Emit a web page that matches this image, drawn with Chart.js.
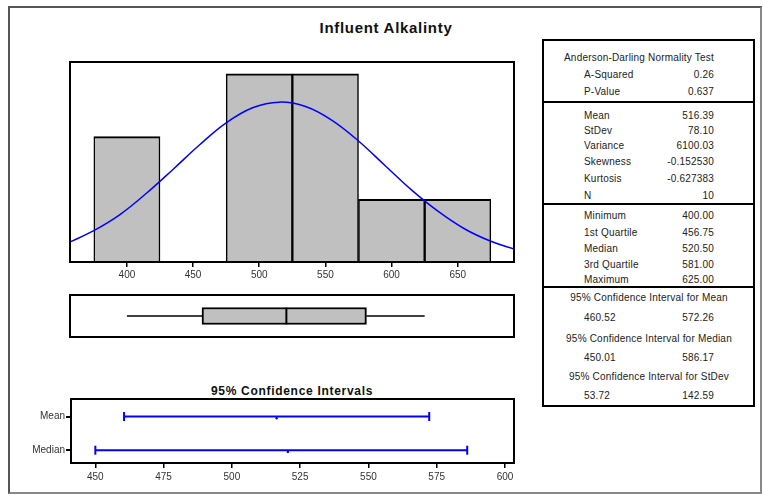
<!DOCTYPE html>
<html>
<head>
<meta charset="utf-8">
<script src="https://cdn.jsdelivr.net/npm/chart.js@4/dist/chart.umd.min.js"></script>
<style>
  html, body { margin: 0; padding: 0; background: #fff; }
  body { width: 763px; height: 495px; position: relative; overflow: hidden;
         font-family: "Liberation Sans", Arial, sans-serif; color: #222; }
  .abs { position: absolute; }
  #outer { left: 8px; top: 6px; width: 754px; height: 488px; box-sizing: border-box;
           border: 2px solid #555; border-right-color: #888; border-bottom-color: #888; }
  #title { left: 0; width: 772px; top: 19px; text-align: center; font-weight: bold;
           font-size: 15px; letter-spacing: 0.7px; color: #111; }
  #ciTitle { left: 70px; width: 444px; top: 384px; text-align: center; font-weight: bold;
             font-size: 12px; letter-spacing: 0.7px; color: #111; }
  #stats { left: 542px; top: 39px; width: 213px; height: 368px; box-sizing: border-box;
           border: 2px solid #000; }
  .rule { position: absolute; left: 542px; width: 213px; height: 2px; background: #000; }
  .txt { position: absolute; font-size: 10px; line-height: 12px; height: 12px;
         white-space: nowrap; letter-spacing: 0.2px; color: #222; }
  canvas { position: absolute; }
</style>
</head>
<body>
<div id="outer" class="abs"></div>
<div id="title" class="abs">Influent Alkalinty</div>
<div id="ciTitle" class="abs">95% Confidence Intervals</div>
<div id="stats" class="abs"></div>
<div id="statText"></div>

<canvas id="hist" style="left:60px; top:52px;" width="464" height="234"></canvas>
<canvas id="box" style="left:60px; top:285px;" width="464" height="62"></canvas>
<canvas id="ci" style="left:0px; top:389px;" width="524" height="104"></canvas>

<script>
// Histogram of the sample (bin centres and counts)
const binCenters = [400, 450, 500, 550, 600, 650];
const binCounts = [2, 0, 3, 3, 1, 1];
const histTicks = [400, 450, 500, 550, 600, 650];

// Fitted normal curve, in count units
const curveX = [355, 375, 395, 415, 435, 455, 475, 495, 515, 535, 555, 575, 595, 615, 635, 655, 675, 695];
const curveY = [0.30, 0.50, 0.76, 1.10, 1.48, 1.87, 2.22, 2.46, 2.55, 2.48, 2.26, 1.93, 1.54, 1.15, 0.81, 0.53, 0.33, 0.19];

// Box plot: minimum, Q1, median, Q3, maximum
const boxSummary = [400, 456.75, 520.5, 581, 625];

// 95% confidence intervals
const ciRows = ['Mean', 'Median'];
const ciLower = [460.52, 450.01];
const ciUpper = [572.26, 586.17];
const ciEstimate = [516.39, 520.5];
const ciTicks = [450, 475, 500, 525, 550, 575, 600];

// Summary table
const adLabels = ['A-Squared', 'P-Value'];
const adValues = ['0.26', '0.637'];
const momentLabels = ['Mean', 'StDev', 'Variance', 'Skewness', 'Kurtosis', 'N'];
const momentValues = ['516.39', '78.10', '6100.03', '-0.152530', '-0.627383', '10'];
const quartileLabels = ['Minimum', '1st Quartile', 'Median', '3rd Quartile', 'Maximum'];
const quartileValues = ['400.00', '456.75', '520.50', '581.00', '625.00'];
const intervalHeads = ['95% Confidence Interval for Mean', '95% Confidence Interval for Median', '95% Confidence Interval for StDev'];
const intervalLow = ['460.52', '450.01', '53.72'];
const intervalHigh = ['572.26', '586.17', '142.59'];

// ---------- summary table ----------
(function buildTable() {
  const host = document.getElementById('statText');
  function put(text, cy, opts) {
    const d = document.createElement('div');
    d.className = 'txt';
    d.textContent = text;
    d.style.top = (cy - 6) + 'px';
    if (opts.left !== undefined) d.style.left = opts.left + 'px';
    if (opts.right !== undefined) { d.style.right = (763 - opts.right) + 'px'; d.style.textAlign = 'right'; }
    if (opts.center !== undefined) { d.style.left = (opts.center - 110) + 'px'; d.style.width = '220px'; d.style.textAlign = 'center'; }
    host.appendChild(d);
  }
  function rule(y) {
    const r = document.createElement('div');
    r.className = 'rule';
    r.style.top = (y - 1) + 'px';
    host.appendChild(r);
  }
  const labelX = 584, valueRight = 714;
  put('Anderson-Darling Normality Test', 58, { left: 564 });
  const adY = [75, 92];
  adLabels.forEach((l, i) => { put(l, adY[i], { left: labelX }); put(adValues[i], adY[i], { right: valueRight }); });
  rule(102);
  const mY = [116, 131, 146, 162, 179, 196];
  momentLabels.forEach((l, i) => { put(l, mY[i], { left: labelX }); put(momentValues[i], mY[i], { right: valueRight }); });
  rule(204);
  const qY = [216, 233, 249, 265, 280];
  quartileLabels.forEach((l, i) => { put(l, qY[i], { left: labelX }); put(quartileValues[i], qY[i], { right: valueRight }); });
  rule(287);
  const hY = [298, 339, 377], vY = [318, 358, 396];
  intervalHeads.forEach((h, i) => {
    put(h, hY[i], { center: 649 });
    put(intervalLow[i], vY[i], { left: labelX });
    put(intervalHigh[i], vY[i], { right: valueRight });
  });
})();

// ---------- charts ----------
Chart.defaults.font.family = '"Liberation Sans", Arial, sans-serif';
Chart.defaults.animation = false;
Chart.defaults.responsive = false;
Chart.defaults.plugins.legend.display = false;
Chart.defaults.plugins.tooltip.enabled = false;

const framePlugin = {
  id: 'frame',
  afterDraw(chart) {
    const { ctx, chartArea: a } = chart;
    ctx.save();
    ctx.strokeStyle = '#000';
    ctx.lineWidth = 2;
    ctx.strokeRect(a.left, a.top, a.right - a.left, a.bottom - a.top);
    ctx.restore();
  }
};

const tickFont = { size: 10 };
const tickColor = '#333';

// Histogram with normal fit
new Chart(document.getElementById('hist'), {
  type: 'bar',
  data: {
    datasets: [
      {
        type: 'line',
        data: curveX.map((x, i) => ({ x, y: curveY[i] })),
        borderColor: '#0000ff',
        borderWidth: 1.5,
        pointRadius: 0,
        tension: 0.4,
        fill: false,
        order: 0
      },
      {
        type: 'bar',
        data: binCenters.map((x, i) => ({ x, y: binCounts[i] })),
        backgroundColor: '#c0c0c0',
        borderColor: '#000',
        borderWidth: { top: 2, left: 1.5, right: 1.5, bottom: 0 },
        borderSkipped: false,
        barPercentage: 1,
        categoryPercentage: 1,
        order: 1
      }
    ]
  },
  options: {
    layout: { padding: { left: 10, right: 10, top: 10, bottom: 0 } },
    scales: {
      x: {
        type: 'linear', min: 357, max: 692.5, offset: false,
        afterBuildTicks: s => { s.ticks = histTicks.map(v => ({ value: v })); },
        afterFit: s => { s.height = 24; },
        grid: { offset: false, drawOnChartArea: false, drawTicks: true, tickLength: 5, color: '#000', lineWidth: 1.5 },
        border: { display: false },
        ticks: { font: tickFont, color: tickColor, padding: 2, maxRotation: 0 }
      },
      y: { display: false, min: 0, max: 3.19 }
    }
  },
  plugins: [framePlugin]
});

// Box plot
new Chart(document.getElementById('box'), {
  type: 'bar',
  data: {
    datasets: [
      {
        type: 'bar',
        indexAxis: 'y',
        data: [{ x: [boxSummary[1], boxSummary[3]], y: 0.5 }],
        backgroundColor: '#c0c0c0',
        borderColor: '#000',
        borderWidth: 2,
        borderSkipped: false,
        barThickness: 17,
        order: 2
      },
      {
        type: 'line',
        data: [{ x: boxSummary[0], y: 0.5 }, { x: boxSummary[1], y: 0.5 }],
        borderColor: '#000', borderWidth: 1.5, pointRadius: 0, order: 1
      },
      {
        type: 'line',
        data: [{ x: boxSummary[3], y: 0.5 }, { x: boxSummary[4], y: 0.5 }],
        borderColor: '#000', borderWidth: 1.5, pointRadius: 0, order: 1
      },
      {
        type: 'line',
        data: [{ x: boxSummary[2], y: 0.3 }, { x: boxSummary[2], y: 0.7 }],
        borderColor: '#000', borderWidth: 2, pointRadius: 0, order: 0
      }
    ]
  },
  options: {
    layout: { padding: 10 },
    scales: {
      x: { type: 'linear', min: 357, max: 692.5, offset: false, display: false },
      y: { type: 'linear', min: 0, max: 1, offset: false, display: false }
    }
  },
  plugins: [framePlugin]
});

// Confidence intervals
const ciDatasets = [];
ciRows.forEach((name, i) => {
  ciDatasets.push({
    type: 'line',
    data: [{ x: ciLower[i], y: i + 1 }, { x: ciUpper[i], y: i + 1 }],
    borderColor: '#0000ff',
    borderWidth: 2,
    pointStyle: 'line',
    rotation: 90,
    pointRadius: 4.5,
    pointBorderWidth: 2,
    pointBorderColor: '#0000ff',
    pointBackgroundColor: '#0000ff'
  });
});
ciDatasets.push({
  type: 'line',
  showLine: false,
  data: ciRows.map((name, i) => ({ x: ciEstimate[i], y: i + 1.05 })),
  pointStyle: 'circle',
  pointRadius: 1.2,
  pointBorderWidth: 0,
  pointBackgroundColor: '#0000ff'
});

new Chart(document.getElementById('ci'), {
  type: 'line',
  data: { datasets: ciDatasets },
  options: {
    layout: { padding: { left: 0, right: 10, top: 10, bottom: 0 } },
    scales: {
      x: {
        type: 'linear', min: 441.1, max: 603.3, offset: false,
        afterBuildTicks: s => { s.ticks = ciTicks.map(v => ({ value: v })); },
        afterFit: s => { s.height = 30; },
        grid: { offset: false, drawOnChartArea: false, drawTicks: true, tickLength: 5, color: '#000', lineWidth: 1.5 },
        border: { display: false },
        ticks: { font: tickFont, color: tickColor, padding: 3, maxRotation: 0 }
      },
      y: {
        type: 'linear', min: 0.479, max: 2.38, reverse: true, offset: false,
        afterBuildTicks: s => { s.ticks = ciRows.map((n, i) => ({ value: i + 1 })); },
        afterFit: s => { s.width = 71; },
        grid: { drawOnChartArea: false, drawTicks: true, tickLength: 5, color: '#000', lineWidth: 2 },
        border: { display: false },
        ticks: { font: tickFont, color: tickColor, padding: 1, callback: v => ciRows[Math.round(v) - 1] }
      }
    }
  },
  plugins: [framePlugin]
});
</script>
</body>
</html>
